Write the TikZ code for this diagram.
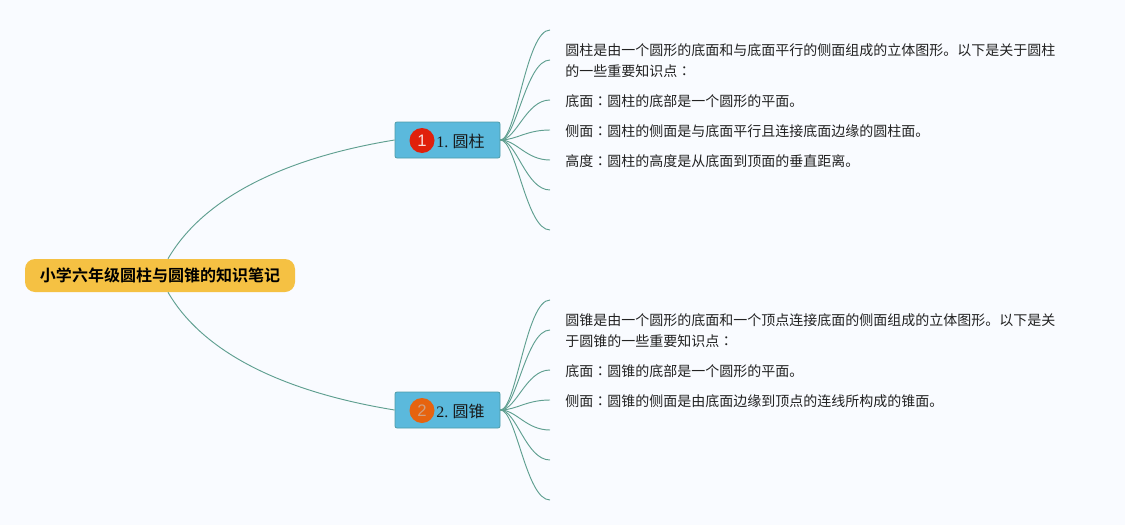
\documentclass[tikz,border=0pt]{standalone}
\usepackage{fontspec}
\setmainfont{Liberation Serif}
\newfontfamily\cjk[BoldFont={Noto Sans CJK SC Bold}]{Noto Sans CJK SC}
\newfontfamily\cjktc{Noto Sans CJK TC}
\newfontfamily\digitfont{Liberation Sans}
\newcommand{\zcolon}{{\cjktc ：}}
\definecolor{bgc}{HTML}{F9FBFF}
\definecolor{rootc}{HTML}{F5C143}
\definecolor{subc}{HTML}{5BB9DC}
\definecolor{subb}{HTML}{4E9CA8}
\definecolor{linec}{HTML}{5F9F90}
\definecolor{txtc}{HTML}{222222}
\definecolor{redm}{HTML}{E0200B}
\definecolor{orgm}{HTML}{E6630F}
\definecolor{digitb}{HTML}{D0A080}
\tikzset{
  rootbox/.style={fill=rootc,rounded corners=7.5pt,minimum width=202.5pt,minimum height=24.75pt,inner sep=0pt,font=\fontsize{12pt}{14pt}\selectfont\cjk\bfseries,text=black},
  subbox/.style={fill=subc,draw=subb,line width=0.6pt,rounded corners=1.5pt,minimum width=78.75pt,minimum height=27pt,inner sep=0pt},
  marker/.style={circle,minimum size=18.75pt,inner sep=0pt,font=\fontsize{12.5pt}{14pt}\selectfont\digitfont},
  sublabel/.style={anchor=east,inner sep=0pt,font=\fontsize{12pt}{14pt}\selectfont,text=black!90},
  note/.style={anchor=north west,inner sep=0pt,align=left,font=\fontsize{10.5pt}{15.75pt}\selectfont\cjk,text=txtc},
  conn/.style={draw=linec,line width=0.7pt},
}
\begin{document}
\begin{tikzpicture}[x=0.75pt,y=-0.75pt]
\useasboundingbox[fill=bgc] (0,0) rectangle (1125,525);
\node[rootbox] (root) at (160,275.5) {小学六年级圆柱与圆锥的知识笔记};
\node[subbox] (s1) at (447.5,140) {};
\node[subbox] (s2) at (447.5,410) {};
\node[marker,fill=redm,text=white!85!redm] (m1) at (422,140.5) {1};
\node[marker,fill=orgm,text=digitb] (m2) at (422,410.5) {2};
\node[sublabel] (l1) at (485,141) {1.\hspace{3.2pt}{\cjk 圆柱}};
\node[sublabel] (l2) at (485,411) {2.\hspace{3.2pt}{\cjk 圆锥}};
\foreach \n/\y in {a1/30,a2/60,a3/100,a4/130,a5/160,a6/190,a7/230,b1/300,b2/330,b3/370,b4/400,b5/430,b6/460,b7/500}
  \coordinate (\n) at (550,\y);
\draw[conn] ([xshift=6pt]root.north) .. controls (205,195) and (290,157) .. (s1.west);
\draw[conn] ([xshift=6pt]root.south) .. controls (205,356) and (290,393) .. (s2.west);
\foreach \n in {a1,a2,a3,a4,a5,a6,a7}
  \draw[conn] (s1.east) .. controls +(16,0) and ([xshift=-18pt]\n) .. (\n);
\foreach \n in {b1,b2,b3,b4,b5,b6,b7}
  \draw[conn] (s2.east) .. controls +(16,0) and ([xshift=-18pt]\n) .. (\n);
\node[note] (t1) at (565,43) {圆柱是由一个圆形的底面和与底面平行的侧面组成的立体图形。以下是关于圆柱\\的一些重要知识点\zcolon};
\node[note] (t2) at (565,94) {底面\zcolon 圆柱的底部是一个圆形的平面。};
\node[note] (t3) at (565,124) {侧面\zcolon 圆柱的侧面是与底面平行且连接底面边缘的圆柱面。};
\node[note] (t4) at (565,154) {高度\zcolon 圆柱的高度是从底面到顶面的垂直距离。};
\node[note] (t5) at (565,313) {圆锥是由一个圆形的底面和一个顶点连接底面的侧面组成的立体图形。以下是关\\于圆锥的一些重要知识点\zcolon};
\node[note] (t6) at (565,364) {底面\zcolon 圆锥的底部是一个圆形的平面。};
\node[note] (t7) at (565,394) {侧面\zcolon 圆锥的侧面是由底面边缘到顶点的连线所构成的锥面。};
\end{tikzpicture}
\end{document}
